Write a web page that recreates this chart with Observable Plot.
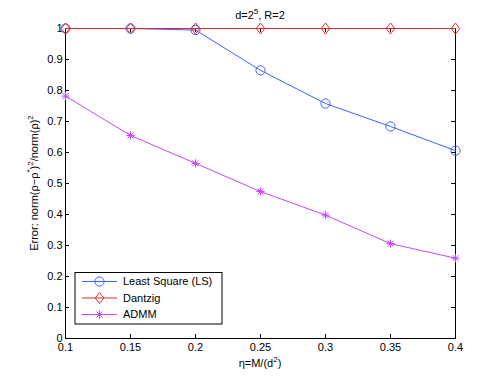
<!DOCTYPE html>
<html>
<head>
<meta charset="utf-8">
<script src="https://cdn.jsdelivr.net/npm/d3@7"></script>
<script src="https://cdn.jsdelivr.net/npm/@observablehq/plot@0.6"></script>
<style>
  html, body { margin: 0; padding: 0; background: #fff; }
  svg { display: block; }
</style>
</head>
<body>
<div id="chart"></div>
<script>
const eta = [0.1, 0.15, 0.2, 0.25, 0.3, 0.35, 0.4];
const lsError = [1.0, 1.0, 0.995, 0.865, 0.758, 0.684, 0.606];
const dantzigError = [1.0, 1.0, 1.0, 1.0, 1.0, 1.0, 1.0];
const admmError = [0.782, 0.655, 0.565, 0.474, 0.398, 0.306, 0.259];
const seriesNames = ["Least Square (LS)", "Dantzig", "ADMM"];
const xTicks = [0.1, 0.15, 0.2, 0.25, 0.3, 0.35, 0.4];
const yTicks = [0, 0.1, 0.2, 0.3, 0.4, 0.5, 0.6, 0.7, 0.8, 0.9, 1];

const colors = ["#4060ff", "#e02a2a", "#c845ff"];
const font = "'Liberation Sans', Arial, Helvetica, sans-serif";

const diamondSym = {
  draw(ctx, size) {
    const r = Math.sqrt(size / Math.PI);
    const w = r * 0.85, h = r * 1.1;
    ctx.moveTo(0, -h); ctx.lineTo(w, 0); ctx.lineTo(0, h); ctx.lineTo(-w, 0); ctx.closePath();
  }
};
const starSym = {
  draw(ctx, size) {
    const r = Math.sqrt(size / Math.PI);
    const d = r * 0.72;
    ctx.moveTo(-r, 0); ctx.lineTo(r, 0);
    ctx.moveTo(0, -r); ctx.lineTo(0, r);
    ctx.moveTo(-d, -d); ctx.lineTo(d, d);
    ctx.moveTo(-d, d); ctx.lineTo(d, -d);
  }
};
const circleSym = {
  draw(ctx, size) {
    const r = Math.sqrt(size / Math.PI);
    ctx.moveTo(r, 0); ctx.arc(0, 0, r, 0, 2 * Math.PI);
  }
};
const symbols = [circleSym, diamondSym, starSym];
const radii = [4.6, 5, 4.2];

const rows = (vals, s) => eta.map((x, i) => ({x, y: vals[i], s}));
const ls = rows(lsError, 0), dz = rows(dantzigError, 1), ad = rows(admmError, 2);

const W = 501, H = 377;
const mL = 65, mR = 46, mT = 28, mB = 39;
const fw = W - mL - mR, fh = H - mT - mB;
const tl = 4;

const plot = Plot.plot({
  width: W, height: H,
  marginLeft: mL, marginRight: mR, marginTop: mT, marginBottom: mB,
  style: {fontFamily: font, fontSize: "11px", color: "#000", background: "#fff", overflow: "visible"},
  x: {domain: [0.1, 0.4]},
  y: {domain: [0, 1]},
  marks: [
    Plot.axisX({ticks: xTicks, tickSize: 0, tickPadding: 5, label: null, tickFormat: d => String(d), fontSize: 11}),
    Plot.axisY({ticks: yTicks, tickSize: 0, tickPadding: 3, label: null, tickFormat: d => String(d), fontSize: 11}),
    Plot.tickX(xTicks, {x: d => d, insetTop: fh - tl, stroke: "#000"}),
    Plot.tickX(xTicks, {x: d => d, insetBottom: fh - tl, stroke: "#000"}),
    Plot.tickY(yTicks, {y: d => d, insetRight: fw - tl, stroke: "#000"}),
    Plot.tickY(yTicks, {y: d => d, insetLeft: fw - tl, stroke: "#000"}),
    Plot.frame({stroke: "#000", strokeWidth: 1}),
    Plot.line(ls, {x: "x", y: "y", stroke: colors[0], strokeWidth: 1}),
    Plot.dot(ls, {x: "x", y: "y", stroke: colors[0], fill: "none", symbol: symbols[0], r: radii[0], strokeWidth: 1}),
    Plot.line(dz, {x: "x", y: "y", stroke: colors[1], strokeWidth: 1}),
    Plot.dot(dz, {x: "x", y: "y", stroke: colors[1], fill: "none", symbol: symbols[1], r: radii[1], strokeWidth: 1}),
    Plot.line(ad, {x: "x", y: "y", stroke: colors[2], strokeWidth: 1}),
    Plot.dot(ad, {x: "x", y: "y", stroke: colors[2], fill: "none", symbol: symbols[2], r: radii[2], strokeWidth: 1})
  ]
});

document.getElementById("chart").appendChild(plot);

const svg = d3.select(plot);
const xs = plot.scale("x"), ys = plot.scale("y");
const cx = (xs.apply(0.1) + xs.apply(0.4)) / 2;
const cy = (ys.apply(0) + ys.apply(1)) / 2;

// Title
const title = svg.append("text")
  .attr("x", cx).attr("y", 19)
  .attr("text-anchor", "middle")
  .attr("font-family", font).attr("font-size", 11).attr("fill", "#000");
title.append("tspan").text("d=2");
title.append("tspan").attr("dy", -5).attr("font-size", 8).text("5");
title.append("tspan").attr("dy", 5).text(", R=2");

// X label
const xl = svg.append("text")
  .attr("x", cx).attr("y", 367)
  .attr("text-anchor", "middle")
  .attr("font-family", font).attr("font-size", 11).attr("fill", "#000");
xl.append("tspan").text("η=M/(d");
xl.append("tspan").attr("dy", -5).attr("font-size", 8).text("2");
xl.append("tspan").attr("dy", 5).text(")");

// Y label
const yl = svg.append("text")
  .attr("transform", `translate(37.5,${cy}) rotate(-90)`)
  .attr("text-anchor", "middle")
  .attr("font-family", font).attr("font-size", 11).attr("fill", "#000");
yl.append("tspan").text("Error: norm(ρ−ρ");
yl.append("tspan").attr("dy", -6).attr("font-size", 8).text("*");
yl.append("tspan").attr("dy", 6).text(")");
yl.append("tspan").attr("dy", -5).attr("font-size", 8).text("2");
yl.append("tspan").attr("dy", 5).text("/norm(ρ)");
yl.append("tspan").attr("dy", -5).attr("font-size", 8).text("2");

// Legend
const lg = svg.append("g").attr("text-anchor", "start");
const lx = 75, ly = 272.5, lw = 147, lh = 51.5;
lg.append("rect").attr("x", lx).attr("y", ly).attr("width", lw).attr("height", lh)
  .attr("fill", "#fff").attr("stroke", "#000").attr("stroke-width", 1);
const entryY = [281.5, 298, 314.5];
seriesNames.forEach((name, i) => {
  const y = entryY[i];
  lg.append("line").attr("x1", 82).attr("x2", 117).attr("y1", y).attr("y2", y)
    .attr("stroke", colors[i]).attr("stroke-width", 1);
  lg.append("path").attr("d", d3.symbol(symbols[i], radii[i] * radii[i] * Math.PI)())
    .attr("transform", `translate(99.5,${y})`)
    .attr("fill", "none").attr("stroke", colors[i]).attr("stroke-width", 1);
  lg.append("text").attr("x", 123).attr("y", y).attr("dy", "0.35em")
    .attr("text-anchor", "start")
    .attr("font-family", font).attr("font-size", 11).attr("fill", "#000").text(name);
});
</script>
</body>
</html>
